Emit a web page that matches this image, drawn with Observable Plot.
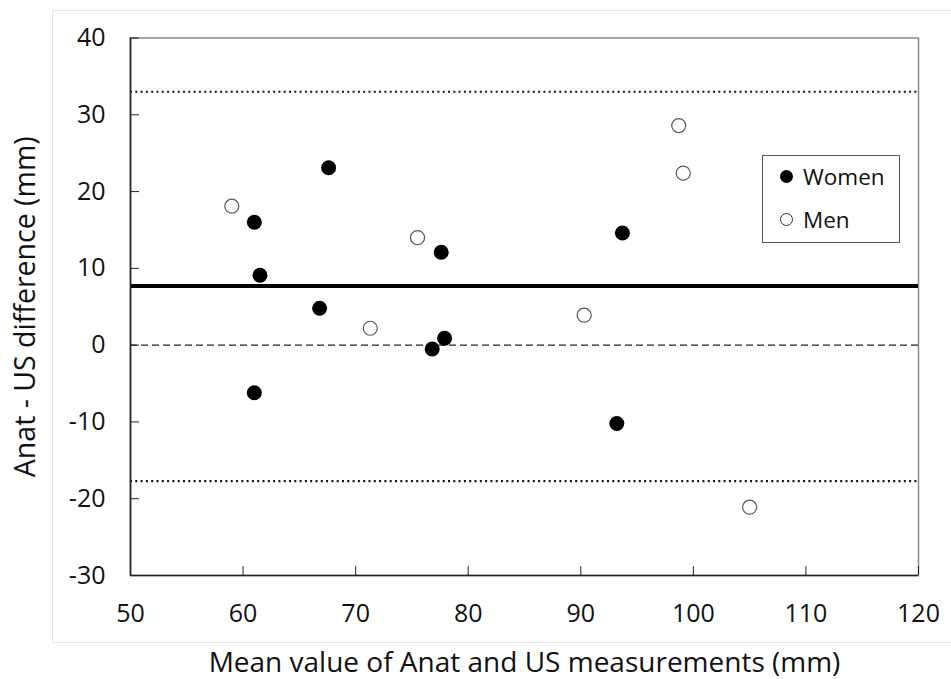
<!DOCTYPE html>
<html>
<head>
<meta charset="utf-8">
<script src="https://cdn.jsdelivr.net/npm/d3@7"></script>
<script src="https://cdn.jsdelivr.net/npm/@observablehq/plot@0.6"></script>
<style>
  html, body { margin: 0; padding: 0; background: #fff; }
  #wrap { position: relative; width: 951px; height: 679px; font-family: "Open Sans", sans-serif; }
  #outer { position: absolute; left: 52px; top: 10px; width: 905px; height: 631px; border: 1px solid #e6e6e6; }
  #legend { position: absolute; left: 762px; top: 155px; width: 136px; height: 86px; border: 1px solid #555; background: #fff; font-size: 22.5px; color: #111; }
  .row { position: absolute; left: 0; height: 30px; display: flex; align-items: center; }
  .sw { display: inline-block; width: 13px; height: 13px; border-radius: 50%; margin-left: 17px; margin-right: 10px; box-sizing: border-box; }
</style>
</head>
<body>
<div id="wrap">
  <div id="outer"></div>
  <div id="chart" style="position:absolute;left:0;top:0;"></div>
  <div id="legend">
    <div class="row" style="top:5px;"><span class="sw" style="background:#000;"></span><span>Women</span></div>
    <div class="row" style="top:48px;"><span class="sw" style="background:#fff;border:1.3px solid #333;"></span><span>Men</span></div>
  </div>
</div>
<script>
// Data
const womenX = [61.0, 61.5, 67.6, 66.8, 77.6, 76.8, 77.9, 61.0, 93.7, 93.2];
const womenY = [16.0, 9.1, 23.1, 4.8, 12.1, -0.5, 0.9, -6.2, 14.6, -10.2];
const menX = [59.0, 71.3, 75.5, 98.7, 99.1, 90.3, 105.0];
const menY = [18.1, 2.2, 14.0, 28.6, 22.4, 3.9, -21.1];
const meanDiff = 7.7;
const upperLoA = 33.0;
const lowerLoA = -17.7;
const zeroLine = 0;
const xTicks = [50, 60, 70, 80, 90, 100, 110, 120];
const yTicks = [-30, -20, -10, 0, 10, 20, 30, 40];
const xDomain = [50, 120];
const yDomain = [-30, 40];
const xTitle = "Mean value of Anat and US measurements (mm)";
const yTitle = "Anat - US difference (mm)";

const women = womenX.map((x, i) => ({x, y: womenY[i]}));
const men = menX.map((x, i) => ({x, y: menY[i]}));

const plot = Plot.plot({
  width: 951,
  height: 679,
  marginLeft: 130,
  marginTop: 37.5,
  marginRight: 33,
  marginBottom: 104,
  style: {fontFamily: "Open Sans, sans-serif", fontSize: "25px", color: "#111", background: "transparent"},
  x: {domain: xDomain},
  y: {domain: yDomain},
  marks: [
    Plot.frame({stroke: "#888", strokeWidth: 1.5}),
    Plot.ruleY([upperLoA, lowerLoA], {stroke: "#111", strokeWidth: 2.2, strokeDasharray: "2,3.3"}),
    Plot.ruleY([zeroLine], {stroke: "#222", strokeWidth: 1.2, strokeDasharray: "7,4"}),
    Plot.ruleY([meanDiff], {stroke: "#000", strokeWidth: 4}),
    Plot.ruleX([xDomain[0]], {stroke: "#222", strokeWidth: 1.6}),
    Plot.ruleY([yDomain[0]], {stroke: "#222", strokeWidth: 1.6}),
    Plot.axisX({ticks: xTicks, tickSize: -9, tickPadding: 38, tickFormat: d => String(d), label: null, fontSize: 25, stroke: "#222"}),
    Plot.axisY({ticks: yTicks, tickSize: -9, tickPadding: 34, tickFormat: d => String(d), label: null, fontSize: 25, stroke: "#222"}),
    Plot.axisX({ticks: [], tickSize: 0, label: xTitle, labelAnchor: "center", labelArrow: "none", labelOffset: 96, fontSize: 28}),
    Plot.axisY({ticks: [], tickSize: 0, label: yTitle, labelAnchor: "center", labelArrow: "none", labelOffset: 116, fontSize: 28.5}),
    Plot.dot(men, {x: "x", y: "y", r: 7, fill: "#fff", stroke: "#555", strokeWidth: 1.2}),
    Plot.dot(women, {x: "x", y: "y", r: 7.5, fill: "#000", stroke: "none"})
  ]
});
document.getElementById("chart").appendChild(plot);
</script>
</body>
</html>
